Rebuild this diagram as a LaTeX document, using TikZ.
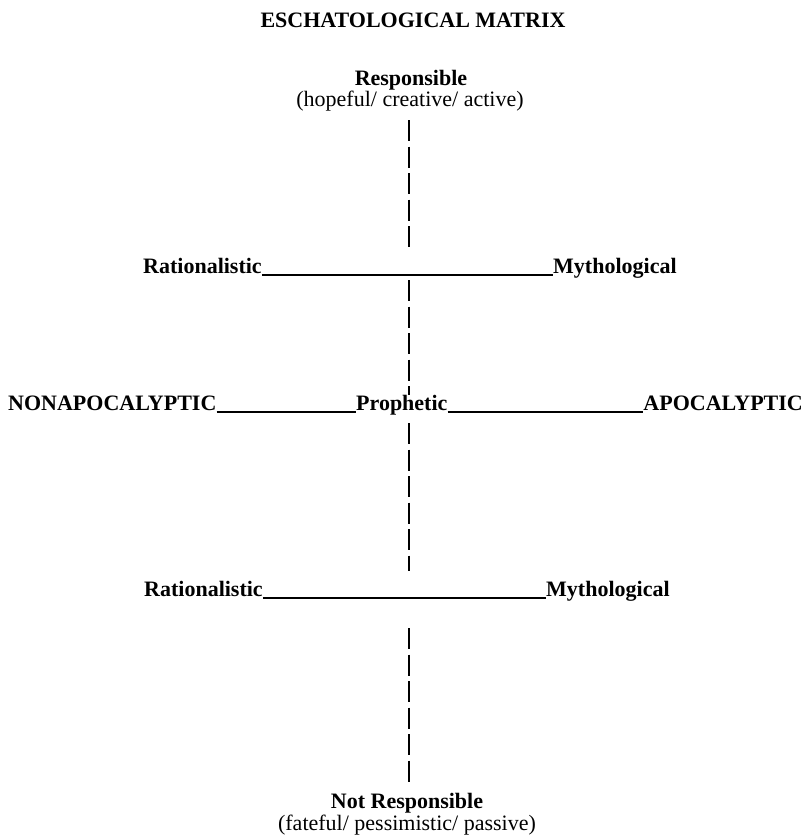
\documentclass[tikz,border=0pt]{standalone}
\usepackage{fontspec}
\setmainfont{Liberation Serif}
\usetikzlibrary{positioning}
\tikzset{word/.style={inner sep=0pt, font=\fontsize{22}{24}\selectfont\bfseries},
  paren/.style={inner sep=0pt, font=\fontsize{22}{24}\selectfont},
  uline/.style={line width=1.6pt},
  vdash/.style={line width=2.4pt, dash pattern=on 21pt off 5.5pt}}

\begin{document}
\begin{tikzpicture}[x=1pt,y=-1pt]
  \useasboundingbox (0,0) rectangle (811,839);
  \node[word,anchor=base] (title) at (413,27) {ESCHATOLOGICAL MATRIX};
  \node[word,anchor=base] (resp) at (411,85) {Responsible};
  \node[paren,anchor=base] (hope) at (410,106) {(hopeful/ creative/ active)};
  \node[word,anchor=base west] (rat1) at (143,273) {Rationalistic};
  \node[word,anchor=base west] (myth1) at (553,273) {Mythological};
  \node[word,anchor=base west] (nonapo) at (8,410) {NONAPOCALYPTIC};
  \node[word,anchor=base west] (proph) at (356,410) {Prophetic};
  \node[word,anchor=base east] (apo) at (803,410) {APOCALYPTIC};
  \node[word,anchor=base west] (rat2) at (144,596) {Rationalistic};
  \node[word,anchor=base west] (myth2) at (546,596) {Mythological};
  \node[word,anchor=base] (notresp) at (407,808) {Not Responsible};
  \node[paren,anchor=base] (fate) at (407,830) {(fateful/ pessimistic/ passive)};
  % the underscores
  \draw[uline] ([yshift=-2pt]rat1.base east) -- ([yshift=-2pt]myth1.base west);
  \draw[uline] ([yshift=-2pt]nonapo.base east) -- ([yshift=-2pt]proph.base west);
  \draw[uline] ([yshift=-2pt]proph.base east) -- ([yshift=-2pt]apo.base west);
  \draw[uline] ([yshift=-2pt]rat2.base east) -- ([yshift=-2pt]myth2.base west);
  % the dashed axis
  \coordinate (v1) at (409,120); \coordinate (v2) at (409,249);
  \coordinate (v3) at (409,280); \coordinate (v4) at (409,395);
  \coordinate (v5) at (409,423); \coordinate (v6) at (409,571);
  \coordinate (v7) at (409,628); \coordinate (v8) at (409,786);
  \foreach \ya/\yb in {v1/v2,v3/v4,v5/v6,v7/v8}
    \draw[vdash] (\ya) -- (\yb);
\end{tikzpicture}
\end{document}
